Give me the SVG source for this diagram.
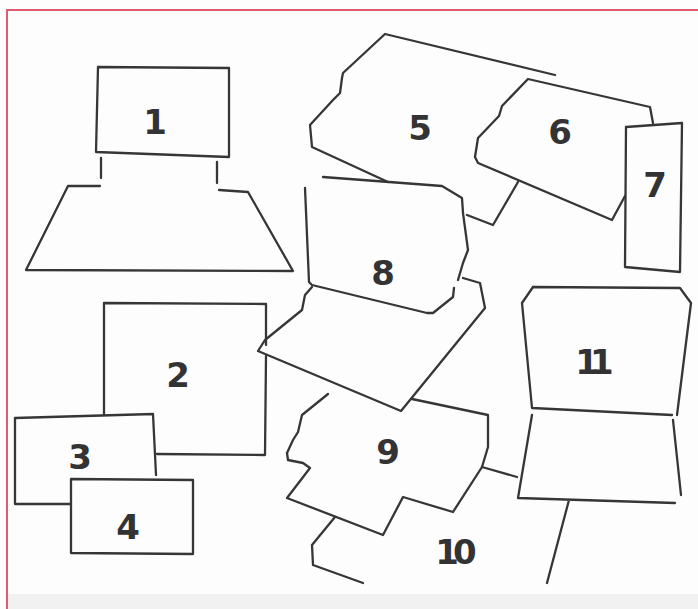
<svg xmlns="http://www.w3.org/2000/svg" width="698" height="609" viewBox="0 0 698 609">
<style>
.p{fill:none;stroke:#363636;stroke-width:2.3;stroke-linejoin:round;stroke-linecap:round}
.t{font-family:"DejaVu Sans","Liberation Sans",Arial,sans-serif;font-weight:bold;font-size:34px;fill:#333;text-anchor:middle}
.b{fill:none;stroke:#e25a6e;stroke-width:2}
</style>
<rect x="0" y="0" width="698" height="609" fill="#fdfdfd"/>
<rect x="8" y="594" width="690" height="15" fill="#f1f1f1"/>
<g id="frame">
<path class="b" d="M7,609 L7,10 L698,10"/>
</g>
<g id="piece-1">
<path class="p" d="M98,67 L229,68 L229,157 L96,152 Z"/>
<text class="t" x="155" y="134">1</text>
</g>
<g id="base-1">
<path class="p" d="M101,158 L101,178 M217,162 L217,183 M100,186 L68,186 L26,270 L293,271 L248,192 L219,190"/>
</g>
<g id="piece-2">
<path class="p" d="M104,415 L104,303 L266,304 L266,345 M266,356 L265,455 L157,454"/>
<text class="t" x="178" y="387">2</text>
</g>
<g id="piece-3">
<path class="p" d="M71,504 L15,504 L15,418 L153,414 L156,475"/>
<text class="t" x="80" y="469">3</text>
</g>
<g id="piece-4">
<path class="p" d="M71,479 L193,480 L193,554 L71,553 Z"/>
<text class="t" x="128" y="539">4</text>
</g>
<g id="piece-5">
<path class="p" d="M555,75 L385,34 L343,73 L342,78 L340,93 L333,100 L310,125 L312,147 L388,182 M467,215 L493,225 L518,182"/>
<text class="t" x="420" y="140">5</text>
</g>
<g id="piece-6">
<path class="p" d="M653,123 L650,107 L528,79 L502,106 L499,116 L478,138 L475,157 L478,163 L612,220 L625,196"/>
<text class="t" x="560" y="144">6</text>
</g>
<g id="piece-7">
<path class="p" d="M626,127 L682,123 L680,272 L625,267 Z"/>
<text class="t" x="655" y="197">7</text>
</g>
<g id="piece-8">
<path class="p" d="M305,188 L309,282 L312,285 L427,313 L433,313 L453,297 L454,288 M458,280 L463,263 L468,250 L463,213 L462,198 L442,186 L323,177"/>
<text class="t" x="383" y="285">8</text>
</g>
<g id="piece-8b">
<path class="p" d="M312,287 L305,295 L302,310 L265,340 L258,351 L401,411 L485,308 L480,283 L463,278"/>
</g>
<g id="piece-9">
<path class="p" d="M328,394 L302,415 L298,432 L293,440 L287,453 L288,460 L303,463 L310,468 L287,498 L383,535 L403,497 L453,512 L482,467 L488,447 L488,415 L412,399"/>
<text class="t" x="388" y="464">9</text>
</g>
<g id="piece-10">
<path class="p" d="M335,517 L312,545 L313,565 L363,583"/>
<text class="t" x="453" y="564" style="letter-spacing:-6px">10</text>
</g>
<g id="piece-11">
<path class="p" d="M533,287 L680,288 L691,303 L677,415 M533,287 L522,303 L532,408 L672,415"/>
<text class="t" x="590" y="374" style="letter-spacing:-9px">11</text>
</g>
<g id="piece-11b">
<path class="p" d="M532,415 L518,498 L675,503 M673,420 L681,495 M569,500 L547,583"/>
</g>
<g id="connectors">
<path class="p" d="M482,467 L517,477"/>
</g>
</svg>
